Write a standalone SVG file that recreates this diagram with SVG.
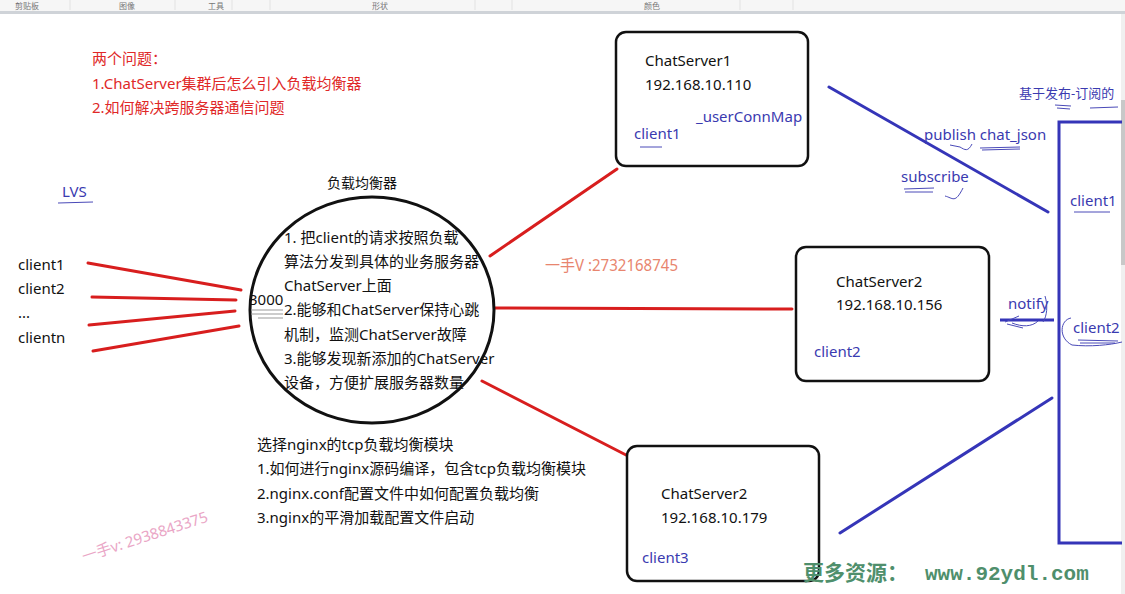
<svg xmlns="http://www.w3.org/2000/svg" width="1125" height="594" viewBox="0 0 1125 594">
<style>
text{font-family:"Microsoft YaHei","Noto Sans","Noto Sans CJK SC",sans-serif;font-size:15px;fill:#111}
.red{fill:#e02828}
.blue{fill:#3a3ab0}
.tb{font-size:8px;fill:#777}
.box{fill:#fff;stroke:#111;stroke-width:2.5}
.rl{stroke:#d81e1e;stroke-width:3;stroke-linecap:round;fill:none}
.bl{stroke:#3535b8;stroke-width:3;stroke-linecap:round;fill:none}
.sc{stroke:#4a4ab8;stroke-width:1;fill:none}
</style>
<rect x="0" y="0" width="1125" height="594" fill="#fff"/>
<g id="toolbar">
<rect x="0" y="0" width="1125" height="11" fill="#f6f6f6"/>
<text class="tb" x="15" y="9">剪贴板</text>
<text class="tb" x="119" y="9">图像</text>
<text class="tb" x="208" y="9">工具</text>
<text class="tb" x="372" y="9">形状</text>
<text class="tb" x="644" y="9">颜色</text>
<g stroke="#e2e2e2" stroke-width="1"><line x1="70" y1="0" x2="70" y2="10"/><line x1="175" y1="0" x2="175" y2="10"/><line x1="232" y1="0" x2="232" y2="10"/><line x1="270" y1="0" x2="270" y2="10"/><line x1="475" y1="0" x2="475" y2="10"/><line x1="512" y1="0" x2="512" y2="10"/><line x1="740" y1="0" x2="740" y2="10"/><line x1="793" y1="0" x2="793" y2="10"/></g>
<rect x="0" y="11" width="1125" height="3" fill="#cfd3d8"/>
<rect x="1121" y="14" width="4" height="580" fill="#f0f0f0"/>
<rect x="1121" y="100" width="4" height="165" fill="#c8c8c8"/>
</g>
<g id="problems">
<text class="red" x="92" y="64">两个问题：</text>
<text class="red" x="92" y="89">1.ChatServer集群后怎么引入负载均衡器</text>
<text class="red" x="92" y="113">2.如何解决跨服务器通信问题</text>
</g>
<g id="lvs">
<text class="blue" x="62" y="197">LVS</text>
<line x1="58" y1="203" x2="93" y2="202" class="sc"/>
</g>
<g id="clients">
<text x="18" y="270">client1</text>
<text x="18" y="294">client2</text>
<text x="18" y="318">...</text>
<text x="18" y="343">clientn</text>
</g>
<g id="connectors">
<line class="rl" x1="88" y1="263" x2="241" y2="290"/>
<line class="rl" x1="92" y1="297" x2="236" y2="300"/>
<line class="rl" x1="89" y1="325" x2="235" y2="311"/>
<line class="rl" x1="93" y1="351" x2="239" y2="326"/>
<line class="rl" x1="490" y1="256" x2="617" y2="169"/>
<line class="rl" x1="495" y1="308" x2="792" y2="309"/>
<line class="rl" x1="482" y1="381" x2="628" y2="456"/>
<line class="bl" x1="829" y1="87" x2="1048" y2="212"/>
<line class="bl" x1="840" y1="533" x2="1052" y2="398"/>
<line x1="1000" y1="320" x2="1054" y2="320" stroke="#3535b8" stroke-width="3"/>
</g>
<g id="load-balancer">
<text x="327" y="188" style="font-size:14px">负载均衡器</text>
<ellipse cx="372" cy="310" rx="122" ry="113" fill="none" stroke="#111" stroke-width="3"/>
<text x="284" y="243">1. 把client的请求按照负载</text>
<text x="284" y="267">算法分发到具体的业务服务器</text>
<text x="284" y="291">ChatServer上面</text>
<text x="284" y="315">2.能够和ChatServer保持心跳</text>
<text x="284" y="340">机制，监测ChatServer故障</text>
<text x="284" y="364">3.能够发现新添加的ChatServer</text>
<text x="284" y="388">设备，方便扩展服务器数量</text>
<text x="249" y="305">3000</text>
<g stroke="#999" stroke-width="1"><line x1="251" y1="310" x2="283" y2="310"/><line x1="251" y1="314" x2="283" y2="314"/><line x1="258" y1="318" x2="283" y2="318"/></g>
</g>
<g id="server1">
<rect class="box" x="616" y="32" width="192" height="134" rx="10"/>
<text x="645" y="66">ChatServer1</text>
<text x="645" y="90">192.168.10.110</text>
<text class="blue" x="696" y="122">_userConnMap</text>
<text class="blue" x="634" y="139">client1</text>
<line x1="640" y1="147" x2="662" y2="147" class="sc" stroke-width="1.5"/>
</g>
<g id="server2">
<rect class="box" x="796" y="247" width="193" height="134" rx="10"/>
<text x="836" y="287">ChatServer2</text>
<text x="836" y="310">192.168.10.156</text>
<text class="blue" x="814" y="357">client2</text>
</g>
<g id="server3">
<rect class="box" x="627" y="446" width="192" height="135" rx="10"/>
<text x="661" y="499">ChatServer2</text>
<text x="661" y="523">192.168.10.179</text>
<text class="blue" x="642" y="563">client3</text>
</g>
<g id="pubsub">
<text class="blue" x="1019" y="98" style="font-size:13px">基于发布-订阅的</text>
<path class="sc" d="M1055 105 l16 1 M1057 108 l13 1 M1090 108 l28 -1"/>
<path d="M1122 122 H1059 V543 H1122" fill="none" stroke="#3535b8" stroke-width="3"/>
<text class="blue" x="1070" y="206">client1</text>
<line x1="1074" y1="212" x2="1110" y2="212" class="sc" stroke-width="1.5"/>
<text class="blue" x="1073" y="333">client2</text>
<path class="sc" d="M1071 318 C1060 320 1058 338 1072 345 C1090 347 1110 345 1122 342 M1078 340 l40 1 M1080 343 l35 0"/>
</g>
<g id="labels">
<text class="blue" x="924" y="140">publish chat_json</text>
<path class="sc" d="M950 145 l10 2 c5 3 8 5 12 -3 M980 148 l40 -1 M982 150 l38 -1"/>
<text class="blue" x="901" y="182">subscribe</text>
<path class="sc" d="M904 189 l30 -1 M905 192 l28 0 M945 196 c8 2 10 8 18 -8"/>
<text class="blue" x="1008" y="309">notify</text>
<path class="sc" d="M1005 322 l14 -6 M1007 324 l16 4 M1012 323 c10 4 20 4 26 -2 M1045 296 c3 10 2 20 -2 26"/>
</g>
<g id="nginx">
<text x="257" y="450">选择nginx的tcp负载均衡模块</text>
<text x="257" y="474">1.如何进行nginx源码编译，包含tcp负载均衡模块</text>
<text x="257" y="499">2.nginx.conf配置文件中如何配置负载均衡</text>
<text x="257" y="523">3.nginx的平滑加载配置文件启动</text>
</g>
<g id="watermarks">
<text x="545" y="271" style="font-size:16px;fill:#e8856e" textLength="133" lengthAdjust="spacingAndGlyphs">一手V :2732168745</text>
<text x="84" y="562" transform="rotate(-18 84 562)" style="font-size:15px;fill:#eaa6c6">一手v: 2938843375</text>
<text x="803" y="580" style="font-size:21px;font-weight:bold;fill:#4f8f6c;font-family:'Noto Sans CJK SC',sans-serif">更多资源：</text>
<text x="925" y="580" style="font-size:21px;font-weight:bold;fill:#4f8f6c;font-family:'Liberation Mono',monospace">www.92ydl.com</text>
</g>
</svg>
